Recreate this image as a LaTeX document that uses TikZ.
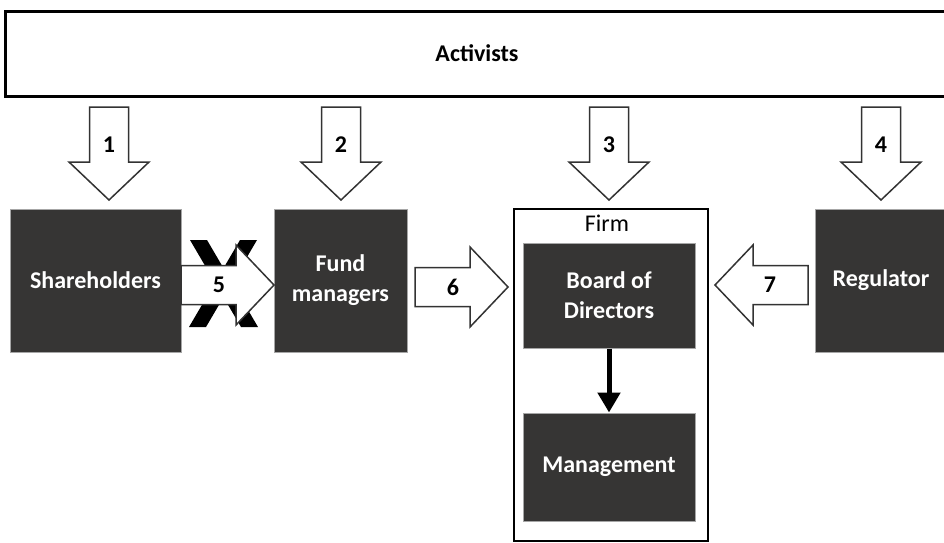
\documentclass[tikz,border=0pt]{standalone}
\usepackage{fontspec}
\setmainfont{Carlito}
\usetikzlibrary{arrows.meta, positioning}
\definecolor{caja}{HTML}{363534}
\tikzset{
  oscura/.style={fill=caja, draw=gray!70, line width=1pt, text=white,
    font=\fontsize{24}{30}\selectfont\bfseries, align=center, inner sep=0pt},
  flechaborde/.style={draw=black!80, line width=1.5pt, fill=white, line join=miter},
  numero/.style={font=\fontsize{24}{30}\selectfont\bfseries, inner sep=0pt},
  flecha/.pic={
    \draw[flechaborde] (0,-19.5) -- (55,-19.5) -- (55,-40) -- (93,0)
      -- (55,40) -- (55,19.5) -- (0,19.5) -- cycle;
    \node[numero] (-n) at (38,0) {#1};
  }
}

\begin{document}
\begin{tikzpicture}[x=1pt,y=-1pt]
  % Marco de la imagen
  \useasboundingbox (0,0) rectangle (944,542);
  \clip (0,0) rectangle (944,542);

  % Caja superior
  \node[draw, line width=3pt, minimum width=944pt, minimum height=85pt,
    font=\fontsize{24}{30}\selectfont\bfseries] (act) at (477,53.5) {Activists};

  % Cajas oscuras
  \node[oscura, minimum width=171pt, minimum height=143pt] (sh) at (95.5,280.5) {Shareholders};
  \node[oscura, minimum width=133pt, minimum height=143pt] (fm) at (340.5,280.5) {Fund\\managers};
  \node[oscura, minimum width=132pt, minimum height=143pt] (reg) at (881,280.5) {Regulator};

  % La empresa
  \node[draw, line width=1.2pt, minimum width=194pt, minimum height=332pt] (firm) at (611,375) {};
  \node[font=\fontsize{24}{30}\selectfont, inner sep=0pt] (firmlbl) at (607,223) {Firm};
  \node[oscura, minimum width=172pt, minimum height=105pt] (bod) at (609,295.5) {Board of\\Directors};
  \node[oscura, minimum width=172pt, minimum height=108pt] (mgmt) at (609,467) {Management};
  \draw[line width=5pt, -{Triangle[width=22pt,length=20pt]}] (bod) -- (mgmt);

  % La cruz detras de la flecha 5
  \fill (190,240) -- (207,240) -- (258,327) -- (241,327) -- cycle;
  \fill (240,240) -- (257,240) -- (206,327) -- (189,327) -- cycle;

  % Flechas grandes
  \pic[rotate=-90] (f1) at (109,107) {flecha=1};
  \pic[rotate=-90] (f2) at (341,107) {flecha=2};
  \pic[rotate=-90] (f3) at (609,107) {flecha=3};
  \pic[rotate=-90] (f4) at (881,107) {flecha=4};
  \pic (f5) at (181,285) {flecha=5};
  \pic (f6) at (415,287) {flecha=6};
  \pic[rotate=180] (f7) at (808,285) {flecha=7};
\end{tikzpicture}
\end{document}
